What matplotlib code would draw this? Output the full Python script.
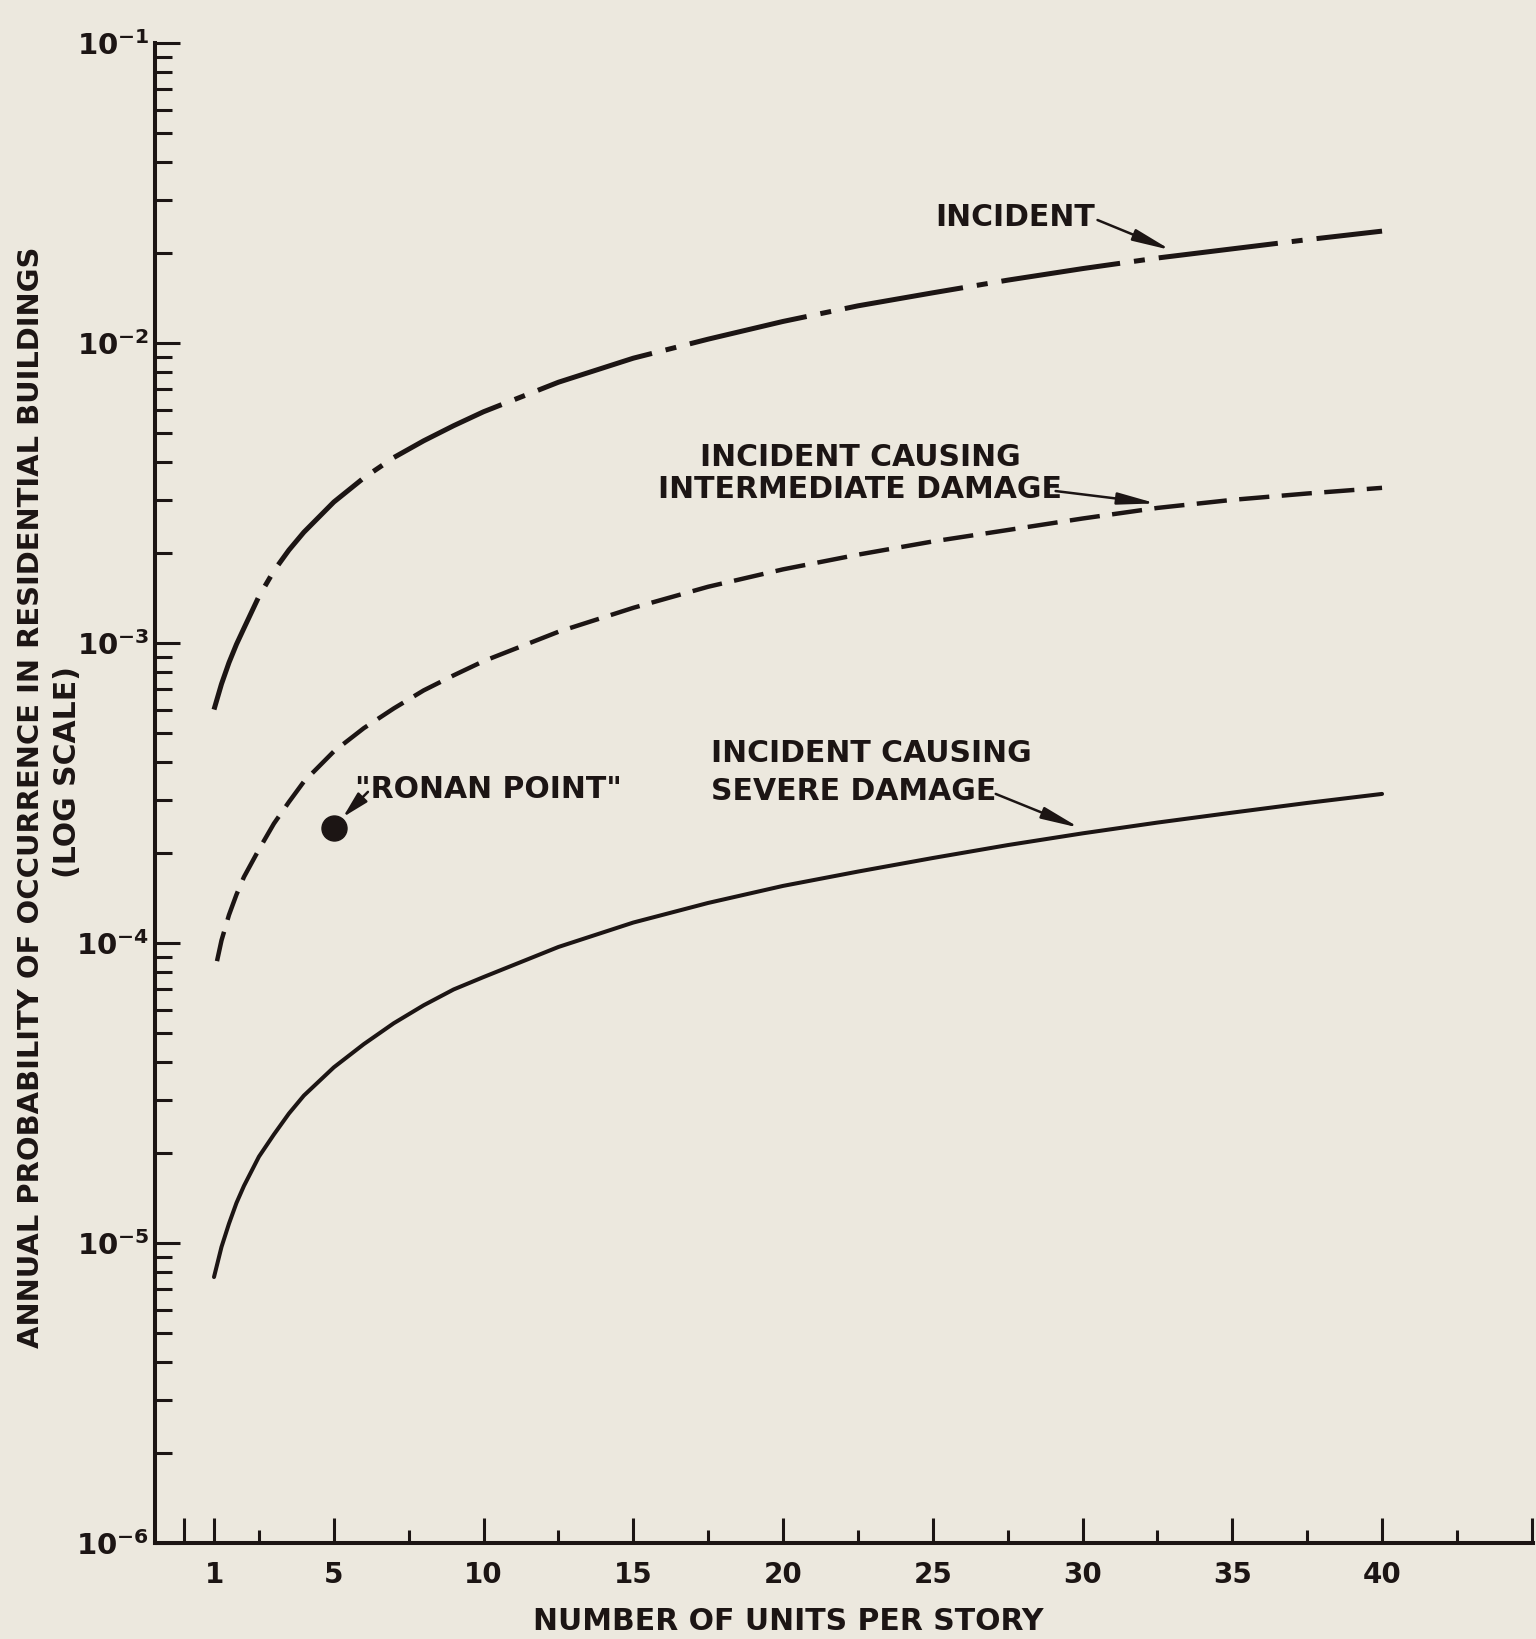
import matplotlib
matplotlib.use("Agg")
import matplotlib.pyplot as plt
from matplotlib.ticker import FixedLocator, LogLocator, NullFormatter, LogFormatterSciNotation

plt.rcParams['font.family'] = ['DejaVu Sans']
plt.rcParams['font.weight'] = 'bold'
plt.rcParams['mathtext.fontset'] = 'dejavusans'
plt.rcParams['mathtext.default'] = 'bf'

BG = '#ece8de'
INK = '#1c1514'

# ---- data ----
incident_x = [1, 1.25, 1.5, 1.75, 2, 2.5, 3, 3.5, 4, 5, 6, 7, 8, 9, 10,
              12.5, 15, 17.5, 20, 22.5, 25, 27.5, 30, 32.5, 35, 37.5, 40]
incident_y = [6.0e-4, 7.3e-4, 8.6e-4, 9.9e-4, 1.12e-3, 1.43e-3, 1.74e-3, 2.04e-3, 2.34e-3,
              2.95e-3, 3.55e-3, 4.15e-3, 4.72e-3, 5.3e-3, 5.9e-3,
              7.4e-3, 8.9e-3, 1.03e-2, 1.18e-2, 1.33e-2, 1.47e-2, 1.62e-2, 1.77e-2,
              1.92e-2, 2.06e-2, 2.21e-2, 2.36e-2]

inter_x = [1.1, 1.25, 1.5, 1.75, 2, 2.5, 3, 3.5, 4, 5, 6, 7, 8, 9, 10,
           12.5, 15, 17.5, 20, 22.5, 25, 27.5, 30, 32.5, 35, 37.5, 40]
inter_y = [8.7e-5, 1.02e-4, 1.24e-4, 1.45e-4, 1.66e-4, 2.05e-4, 2.5e-4, 2.95e-4, 3.45e-4,
           4.35e-4, 5.2e-4, 6.05e-4, 6.95e-4, 7.8e-4, 8.7e-4,
           1.09e-3, 1.31e-3, 1.54e-3, 1.76e-3, 1.97e-3, 2.18e-3, 2.38e-3, 2.6e-3,
           2.82e-3, 3.0e-3, 3.15e-3, 3.29e-3]

severe_x = [1, 1.25, 1.5, 1.75, 2, 2.5, 3, 3.5, 4, 5, 6, 7, 8, 9, 10,
            12.5, 15, 17.5, 20, 22.5, 25, 27.5, 30, 32.5, 35, 37.5, 40]
severe_y = [7.7e-6, 9.7e-6, 1.16e-5, 1.36e-5, 1.55e-5, 1.94e-5, 2.3e-5, 2.7e-5, 3.1e-5,
            3.85e-5, 4.6e-5, 5.4e-5, 6.2e-5, 7.0e-5, 7.7e-5,
            9.7e-5, 1.17e-4, 1.36e-4, 1.55e-4, 1.73e-4, 1.92e-4, 2.12e-4, 2.32e-4,
            2.52e-4, 2.72e-4, 2.93e-4, 3.14e-4]

ronan_x = [5]
ronan_y = [2.42e-4]

x_major_ticks = [0, 1, 5, 10, 15, 20, 25, 30, 35, 40, 45]
x_major_labels = ['', '1', '5', '10', '15', '20', '25', '30', '35', '40', '']
x_minor_ticks = [2.5, 7.5, 12.5, 17.5, 22.5, 27.5, 32.5, 37.5, 42.5]

xlabel = 'NUMBER OF UNITS PER STORY'
ylabel1 = 'ANNUAL PROBABILITY OF OCCURRENCE IN RESIDENTIAL BUILDINGS'
ylabel2 = '(LOG SCALE)'

W, H = 1536, 1639
fig = plt.figure(figsize=(W / 100, H / 100), dpi=100, facecolor=BG)
ax = fig.add_axes([155 / W, 96 / H, 1377.7 / W, 1500 / H])
ax.set_facecolor(BG)

ax.set_yscale('log')
ax.set_ylim(1e-6, 1e-1)
ax.set_xlim(-0.97, 45.03)

# curves
ax.plot(incident_x, incident_y, color=INK, lw=3.6,
        linestyle=(0, (24, 2.8, 2.2, 2.8)), solid_capstyle='round')
ax.plot(inter_x, inter_y, color=INK, lw=3.2, linestyle=(0, (6.8, 2.8)))
ax.plot(severe_x, severe_y, color=INK, lw=2.9, solid_capstyle='round')
ax.plot(ronan_x, ronan_y, 'o', color=INK, markersize=18)

# spines
for s in ['top', 'right']:
    ax.spines[s].set_visible(False)
for s in ['left', 'bottom']:
    ax.spines[s].set_linewidth(2.9)
    ax.spines[s].set_color(INK)

# ticks
ax.xaxis.set_major_locator(FixedLocator(x_major_ticks))
ax.set_xticklabels(x_major_labels)
ax.xaxis.set_minor_locator(FixedLocator(x_minor_ticks))
ax.yaxis.set_major_locator(LogLocator(base=10, numticks=10))
ax.yaxis.set_major_formatter(LogFormatterSciNotation())
ax.yaxis.set_minor_locator(LogLocator(base=10, subs=range(2, 10), numticks=20))
ax.yaxis.set_minor_formatter(NullFormatter())

ax.tick_params(axis='x', which='major', direction='in', length=18, width=2.2,
               color=INK, labelcolor=INK, labelsize=20, pad=13)
ax.tick_params(axis='x', which='minor', direction='in', length=9.4, width=2.2, color=INK)
ax.tick_params(axis='y', which='major', direction='in', length=18, width=2.2,
               color=INK, labelcolor=INK, labelsize=21, pad=4)
ax.tick_params(axis='y', which='minor', direction='in', length=12, width=2.2, color=INK)

# labels
fs = 21.5
fig.text(788 / W, 1 - 1622 / H, xlabel, ha='center', va='center', fontsize=fs, color=INK)
fig.text(31 / W, 1 - 797 / H, ylabel1, ha='center', va='center', rotation=90,
         fontsize=20.9, color=INK)
fig.text(68 / W, 1 - 772 / H, ylabel2, ha='center', va='center', rotation=90,
         fontsize=fs, color=INK)

# annotations
arrow_big = dict(arrowstyle='-|>,head_length=1.15,head_width=0.18', color=INK, lw=1.8,
                 mutation_scale=20, shrinkA=0, shrinkB=0)
arrow_small = dict(arrowstyle='-|>,head_length=0.8,head_width=0.2', color=INK, lw=1.8,
                   mutation_scale=20, shrinkA=0, shrinkB=0)

ax.text(30.4, 0.0262, 'INCIDENT', ha='right', va='center', fontsize=fs, color=INK)
ax.annotate('', xy=(32.95, 0.0204), xytext=(30.5, 0.0257), arrowprops=arrow_big)

ax.text(22.57, 4.14e-3, 'INCIDENT CAUSING', ha='center', va='center', fontsize=fs, color=INK)
ax.text(22.57, 3.24e-3, 'INTERMEDIATE DAMAGE', ha='center', va='center', fontsize=fs, color=INK)
ax.annotate('', xy=(32.45, 2.92e-3), xytext=(29.1, 3.21e-3), arrowprops=arrow_big)

ax.text(17.6, 4.27e-4, 'INCIDENT CAUSING', ha='left', va='center', fontsize=fs, color=INK)
ax.text(17.6, 3.21e-4, 'SEVERE DAMAGE', ha='left', va='center', fontsize=fs, color=INK)
ax.annotate('', xy=(29.9, 2.42e-4), xytext=(27.1, 3.14e-4), arrowprops=arrow_big)

ax.text(5.71, 3.24e-4, '"RONAN POINT"', ha='left', va='center', fontsize=fs, color=INK)
ax.annotate('', xy=(5.31, 2.63e-4), xytext=(6.14, 3.19e-4), arrowprops=arrow_small)

fig.savefig('out.png', dpi=100, facecolor=BG)
